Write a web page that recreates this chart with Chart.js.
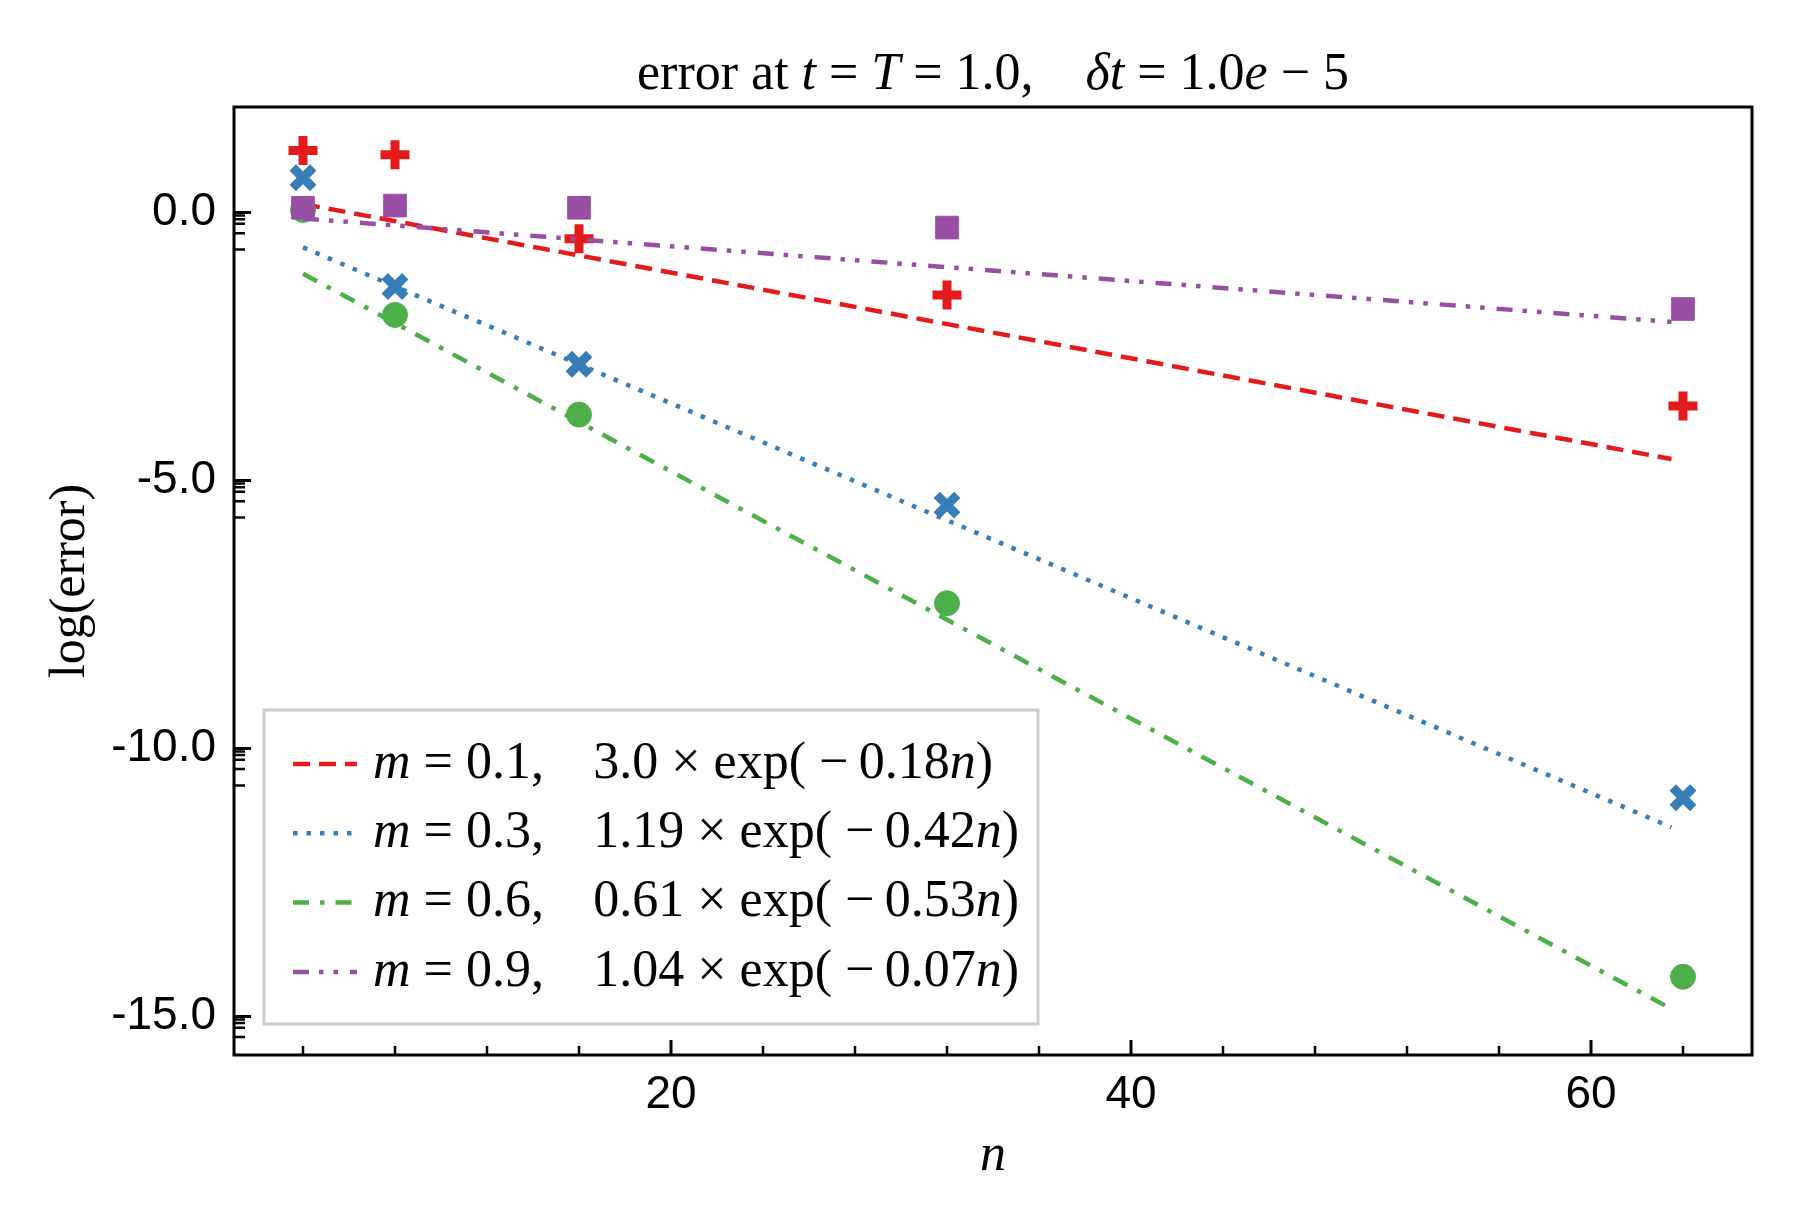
<!DOCTYPE html>
<html lang="en">

<head>
    <meta charset="UTF-8">
    <title>error at t = T = 1.0</title>
    <script src="https://cdn.jsdelivr.net/npm/chart.js"></script>
    <style>
        body {
            margin: 0;
            background: #ffffff;
        }

        #chart {
            display: block;
        }
    </style>
</head>

<body>
    <canvas id="chart" width="1800" height="1224"></canvas>

    <script>
        // measured points: n and log(error) for each m
        const nValues = [4, 8, 16, 32, 64];
        const logErrM01 = [1.16, 1.08, -0.49, -1.54, -3.61];
        const logErrM03 = [0.65, -1.38, -2.83, -5.46, -10.92];
        const logErrM06 = [0.05, -1.91, -3.77, -7.29, -14.26];
        const logErrM09 = [0.09, 0.13, 0.09, -0.28, -1.80];

        // fitted lines (start and end of each straight line)
        const fitN = [4, 63.5];
        const fitM01 = [0.16, -4.60];
        const fitM03 = [-0.65, -11.47];
        const fitM06 = [-1.14, -14.86];
        const fitM09 = [-0.11, -2.04];

        const legendLabels = [
            'm = 0.1,   \u20093.0 × exp( \u2212\u20090.18n)',
            'm = 0.3,   \u20091.19 × exp( \u2212\u20090.42n)',
            'm = 0.6,   \u20090.61 × exp( \u2212\u20090.53n)',
            'm = 0.9,   \u20091.04 × exp( \u2212\u20090.07n)'
        ];
        const titleText = 'error at ';
        const titleMath = 't = T = 1.0,    \u03b4t = 1.0e \u2212 5';

        const xTicks = [20, 40, 60];
        const xMinorTicks = [4, 8, 12, 16, 24, 28, 32, 36, 44, 48, 52, 56, 64];
        const yTicks = [0, -5, -10, -15];
        const yMinorOffsets = [0.056, 0.124, 0.21, 0.385, 0.69];

        const colors = ['#e41a1c', '#377eb8', '#4daf4a', '#984ea3'];
        const SERIF = '"Liberation Serif", "DejaVu Serif", serif';
        const SANS = '"Liberation Sans", Arial, sans-serif';

        function toPoints(xs, ys) {
            return xs.map((x, i) => ({ x: x, y: ys[i] }));
        }

        // split text into upright / italic runs (math variables in italic)
        function mathRuns(text, italics) {
            const runs = [];
            for (const ch of text) {
                const it = italics.includes(ch);
                const last = runs[runs.length - 1];
                if (last && last.it === it) last.s += ch;
                else runs.push({ s: ch, it: it });
            }
            return runs;
        }

        function runFont(it, size) {
            return (it ? 'italic ' : '') + size + 'px ' + SERIF;
        }

        function runsWidth(ctx, runs, size) {
            let w = 0;
            runs.forEach(r => {
                ctx.font = runFont(r.it, size);
                w += ctx.measureText(r.s).width;
            });
            return w;
        }

        function drawRuns(ctx, runs, x, y, size) {
            runs.forEach(r => {
                ctx.font = runFont(r.it, size);
                ctx.fillText(r.s, x, y);
                x += ctx.measureText(r.s).width;
            });
        }

        const scatterStyles = [
            { pointStyle: 'cross', pointRadius: 14.5, pointBorderWidth: 9 },
            { pointStyle: 'crossRot', pointRadius: 14.5, pointBorderWidth: 9 },
            { pointStyle: 'circle', pointRadius: 12.5, pointBorderWidth: 1 },
            { pointStyle: 'rect', pointRadius: 16, pointBorderWidth: 1 }
        ];
        const dashes = [
            [17, 9],
            [4.5, 9],
            [16, 11, 4.5, 11],
            [16, 10, 4.5, 10, 4.5, 12]
        ];
        const measured = [logErrM01, logErrM03, logErrM06, logErrM09];
        const fits = [fitM01, fitM03, fitM06, fitM09];

        const datasets = [];
        measured.forEach((ys, i) => {
            datasets.push(Object.assign({
                label: 'data ' + i,
                data: toPoints(nValues, ys),
                showLine: false,
                backgroundColor: colors[i],
                borderColor: colors[i],
                pointBackgroundColor: colors[i],
                pointBorderColor: colors[i]
            }, scatterStyles[i]));
            datasets.push({
                label: legendLabels[i],
                data: toPoints(fitN, fits[i]),
                showLine: true,
                borderColor: colors[i],
                borderWidth: 4.5,
                borderDash: dashes[i],
                pointRadius: 0,
                fill: false
            });
        });
        // first plotted sits at the bottom
        datasets.forEach((d, i) => { d.order = datasets.length - i; });

        // frame, inward ticks, title and legend
        const decorPlugin = {
            id: 'decor',
            afterDraw(chart) {
                const { ctx, chartArea: a, scales: { x, y } } = chart;
                ctx.save();
                ctx.strokeStyle = '#000';
                ctx.lineWidth = 3;
                ctx.strokeRect(a.left, a.top, a.right - a.left, a.bottom - a.top);

                ctx.beginPath();
                xTicks.forEach(v => {
                    const px = x.getPixelForValue(v);
                    ctx.moveTo(px, a.bottom); ctx.lineTo(px, a.bottom - 15);
                });
                yTicks.forEach(v => {
                    const py = y.getPixelForValue(v);
                    ctx.moveTo(a.left, py); ctx.lineTo(a.left + 17, py);
                });
                ctx.stroke();
                ctx.lineWidth = 2.5;
                ctx.beginPath();
                xMinorTicks.forEach(v => {
                    const px = x.getPixelForValue(v);
                    ctx.moveTo(px, a.bottom); ctx.lineTo(px, a.bottom - 9);
                });
                yTicks.forEach(v => {
                    yMinorOffsets.forEach(o => {
                        const py = y.getPixelForValue(v - o);
                        if (py < a.bottom - 2) {
                            ctx.moveTo(a.left, py); ctx.lineTo(a.left + 11, py);
                        }
                    });
                });
                ctx.stroke();

                // title
                ctx.fillStyle = '#000';
                ctx.textBaseline = 'alphabetic';
                ctx.textAlign = 'left';
                const tSize = 52;
                const runs = [{ s: titleText, it: false }].concat(mathRuns(titleMath, 'tT\u03b4e'));
                const tw = runsWidth(ctx, runs, tSize);
                drawRuns(ctx, runs, (a.left + a.right) / 2 - tw / 2, 89, tSize);

                // legend
                const box = { l: 264, t: 710, r: 1038, b: 1024 };
                ctx.fillStyle = 'rgba(255,255,255,0.85)';
                ctx.fillRect(box.l, box.t, box.r - box.l, box.b - box.t);
                ctx.strokeStyle = '#cccccc';
                ctx.lineWidth = 3;
                ctx.strokeRect(box.l, box.t, box.r - box.l, box.b - box.t);
                ctx.textBaseline = 'middle';
                legendLabels.forEach((lab, i) => {
                    const cy = 764 + i * 69.3;
                    ctx.save();
                    ctx.strokeStyle = colors[i];
                    ctx.lineWidth = 4.5;
                    ctx.setLineDash(dashes[i]);
                    ctx.beginPath();
                    ctx.moveTo(293, cy); ctx.lineTo(357, cy);
                    ctx.stroke();
                    ctx.restore();
                    ctx.fillStyle = '#000';
                    drawRuns(ctx, mathRuns(lab, 'mn'), 373, cy, 52);
                });
                ctx.restore();
            }
        };

        const ctx = document.getElementById('chart').getContext('2d');
        new Chart(ctx, {
            type: 'scatter',
            data: { datasets: datasets },
            options: {
                responsive: false,
                animation: false,
                devicePixelRatio: 1,
                layout: { padding: { left: 0, right: 48, top: 107, bottom: 0 } },
                plugins: {
                    legend: { display: false },
                    title: { display: false },
                    tooltip: { enabled: false }
                },
                scales: {
                    x: {
                        type: 'linear',
                        min: 1,
                        max: 67,
                        grid: { display: false, drawTicks: false },
                        border: { display: false },
                        afterBuildTicks: s => { s.ticks = xTicks.map(v => ({ value: v })); },
                        afterFit: s => { s.height = 169; },
                        ticks: {
                            autoSkip: false,
                            maxRotation: 0,
                            padding: 13,
                            color: '#000',
                            font: { family: SANS, size: 46 },
                            callback: v => String(v)
                        },
                        title: {
                            display: true,
                            text: 'n',
                            color: '#000',
                            font: { family: SERIF, size: 52, style: 'italic' },
                            padding: { top: 0, bottom: 36 }
                        }
                    },
                    y: {
                        min: -15.72,
                        max: 1.97,
                        grid: { display: false, drawTicks: false },
                        border: { display: false },
                        afterBuildTicks: s => { s.ticks = yTicks.map(v => ({ value: v })); },
                        afterFit: s => { s.width = 234; },
                        ticks: {
                            autoSkip: false,
                            padding: 18,
                            color: '#000',
                            font: { family: SANS, size: 46 },
                            callback: v => v.toFixed(1)
                        },
                        title: {
                            display: true,
                            text: 'log(error)',
                            color: '#000',
                            font: { family: SERIF, size: 50 },
                            padding: { top: 41, bottom: 0 }
                        }
                    }
                }
            },
            plugins: [decorPlugin]
        });
    </script>
</body>

</html>
